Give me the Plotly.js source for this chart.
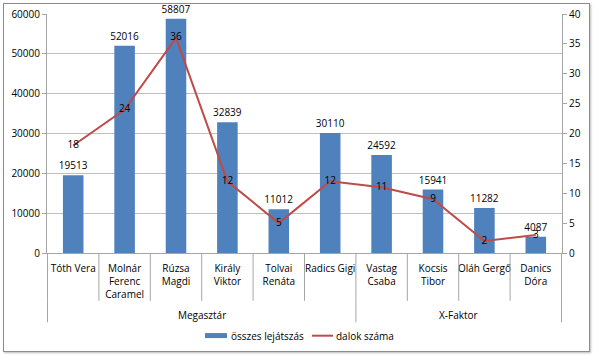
<!DOCTYPE html>
<html><head><meta charset="utf-8">
<script src="https://cdn.plot.ly/plotly-3.0.1.min.js"></script>
<style>
html,body{margin:0;padding:0;background:#fff;}
#frame{position:absolute;left:3px;top:3px;width:585px;height:347px;border:1px solid #8c8c8c;box-shadow:1px 1px 2px #bbb;}
#chart{position:absolute;left:0;top:0;width:594px;height:356px;}
</style></head>
<body>
<div id="frame"></div>
<div id="chart"></div>
<script>
const categories = ["Tóth Vera","Molnár<br>Ferenc<br>Caramel","Rúzsa<br>Magdi","Király<br>Viktor","Tolvai<br>Renáta","Radics Gigi","Vastag<br>Csaba","Kocsis<br>Tibor","Oláh Gergő","Danics<br>Dóra"];
const groups = ["Megasztár","X-Faktor"];
const groupSizes = [6,4];
const plays = [19513,52016,58807,32839,11012,30110,24592,15941,11282,4087];
const songs = [18,24,36,12,5,12,11,9,2,3];
const seriesNames = ["összes lejátszás","dalok száma"];
const colors = ["#4F81BD","#BE4B48"];

const fnt = {family:"Open Sans, sans-serif", size:10, color:"#000"};

const traces = [
  {type:"bar", x:categories, y:plays, name:seriesNames[0], marker:{color:colors[0]}, width:0.4, showlegend:false,
   text:plays.map(String), textposition:"outside", constraintext:"none", cliponaxis:false, textfont:fnt, hoverinfo:"none"},
  {type:"scatter", mode:"lines", x:categories, y:songs, yaxis:"y2", name:seriesNames[1], showlegend:false,
   line:{color:colors[1], width:2}, hoverinfo:"none"},
  {type:"scatter", mode:"text", x:categories, y:songs, yaxis:"y2", showlegend:false,
   text:songs.map(String), textposition:"middle center", textfont:fnt, cliponaxis:false, hoverinfo:"none"}
];

const shapes = [];
const annotations = [];
for (let k=0;k<=categories.length;k++){
  shapes.push({type:"line", xref:"x", yref:"paper", x0:k-0.5, x1:k-0.5, y0:0, y1:-0.2, line:{color:"#a6a6a6", width:1}});
}
let start=0;
shapes.push({type:"line", xref:"x", yref:"paper", x0:-0.5, x1:-0.5, y0:-0.2, y1:-0.29, line:{color:"#a6a6a6", width:1}});
groups.forEach((g,i)=>{
  const end = start+groupSizes[i];
  shapes.push({type:"line", xref:"x", yref:"paper", x0:end-0.5, x1:end-0.5, y0:-0.2, y1:-0.29, line:{color:"#a6a6a6", width:1}});
  annotations.push({xref:"x", yref:"paper", x:(start+end-1)/2, y:-0.26, text:g, showarrow:false, font:fnt, yanchor:"middle"});
  start=end;
});
// legend (drawn manually to match the boxed swatch look)
shapes.push({type:"rect", xref:"paper", yref:"paper", x0:0.3068, x1:0.3495, y0:-0.356, y1:-0.335, fillcolor:colors[0], line:{width:0}});
annotations.push({xref:"paper", yref:"paper", x:0.3533, y:-0.346, xanchor:"left", yanchor:"middle", text:seriesNames[0], showarrow:false, font:fnt});
shapes.push({type:"line", xref:"paper", yref:"paper", x0:0.5146, x1:0.5553, y0:-0.346, y1:-0.346, line:{color:colors[1], width:2}});
annotations.push({xref:"paper", yref:"paper", x:0.5573, y:-0.346, xanchor:"left", yanchor:"middle", text:seriesNames[1], showarrow:false, font:fnt});

const layout = {
  width:594, height:356,
  margin:{l:47, r:32, t:14, b:103, autoexpand:false},
  paper_bgcolor:"rgba(0,0,0,0)", plot_bgcolor:"rgba(0,0,0,0)",
  font:fnt,
  showlegend:false,
  xaxis:{type:"category", automargin:false, showgrid:false, showline:true, linecolor:"#a6a6a6", ticks:"", ticklabelstandoff:6, tickfont:fnt, fixedrange:true},
  yaxis:{automargin:false, range:[0,60000], dtick:10000, showgrid:true, gridcolor:"#bfbfbf", showline:true, linecolor:"#a6a6a6",
         ticks:"outside", ticklen:4, tickcolor:"#a6a6a6", tickfont:fnt, zeroline:false, tickformat:"d"},
  yaxis2:{automargin:false, range:[0,40], dtick:5, overlaying:"y", side:"right", showgrid:false, showline:true, linecolor:"#a6a6a6",
          ticks:"outside", ticklen:4, tickcolor:"#a6a6a6", tickfont:fnt, zeroline:false},
  shapes:shapes, annotations:annotations,
  bargap:0.6
};
Plotly.newPlot("chart", traces, layout, {staticPlot:true});
</script>
</body></html>
